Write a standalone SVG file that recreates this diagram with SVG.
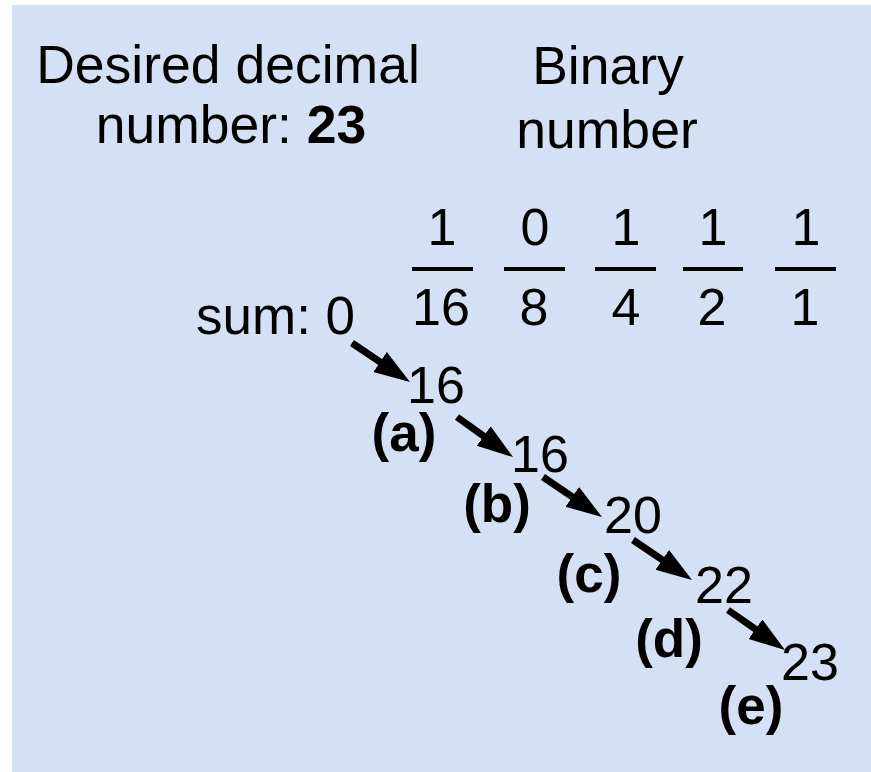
<svg xmlns="http://www.w3.org/2000/svg" width="871" height="772" viewBox="0 0 871 772">
  <style>
    text { font-family: "Liberation Sans", Arial, sans-serif; fill: #000; }
    .hdr { font-size: 53.5px; text-anchor: middle; }
    .num { font-size: 52px; text-anchor: middle; }
    .lbl { font-size: 53px; font-weight: bold; text-anchor: middle; }
    .bar { stroke: #000; stroke-width: 4; }
    .arrow { stroke: #000; stroke-width: 7; fill: none; marker-end: url(#head); }
  </style>
  <defs>
    <marker id="head" markerUnits="userSpaceOnUse" markerWidth="38" markerHeight="26" refX="6" refY="12" orient="auto">
      <path d="M0,0 L36,12 L0,24 z" fill="#000"/>
    </marker>
  </defs>
  <rect x="12" y="5" width="859" height="767" fill="#d4e0f3"/>

  <g id="header-decimal">
    <text class="hdr" x="228" y="83">Desired decimal</text>
    <text class="hdr" x="231" y="143">number: <tspan font-weight="bold">23</tspan></text>
  </g>
  <g id="header-binary">
    <text class="hdr" x="608" y="84">Binary</text>
    <text class="hdr" x="607" y="148">number</text>
  </g>

  <g id="bit-16">
    <text class="num" x="442" y="245">1</text>
    <line class="bar" x1="412" y1="269" x2="473" y2="269"/>
    <text class="num" x="441" y="325">16</text>
  </g>
  <g id="bit-8">
    <text class="num" x="535" y="245">0</text>
    <line class="bar" x1="504" y1="269" x2="565" y2="269"/>
    <text class="num" x="534" y="325">8</text>
  </g>
  <g id="bit-4">
    <text class="num" x="626" y="245">1</text>
    <line class="bar" x1="595" y1="269" x2="656" y2="269"/>
    <text class="num" x="626" y="325">4</text>
  </g>
  <g id="bit-2">
    <text class="num" x="713" y="245">1</text>
    <line class="bar" x1="683" y1="269" x2="743" y2="269"/>
    <text class="num" x="712" y="325">2</text>
  </g>
  <g id="bit-1">
    <text class="num" x="806" y="245">1</text>
    <line class="bar" x1="775" y1="269" x2="836" y2="269"/>
    <text class="num" x="805" y="325">1</text>
  </g>

  <g id="sum-0">
    <text x="196" y="334" font-size="53">sum: 0</text>
  </g>
  <g id="sum-a">
    <text class="num" x="436" y="403">16</text>
    <text class="lbl" x="404" y="451">(a)</text>
  </g>
  <g id="sum-b">
    <text class="num" x="540" y="472">16</text>
    <text class="lbl" x="497" y="522">(b)</text>
  </g>
  <g id="sum-c">
    <text class="num" x="633" y="533">20</text>
    <text class="lbl" x="589" y="592">(c)</text>
  </g>
  <g id="sum-d">
    <text class="num" x="724" y="603">22</text>
    <text class="lbl" x="669" y="657">(d)</text>
  </g>
  <g id="sum-e">
    <text class="num" x="810" y="680">23</text>
    <text class="lbl" x="751" y="724">(e)</text>
  </g>

  <g id="connectors">
    <line class="arrow" x1="352" y1="343" x2="385.1" y2="365.3"/>
    <line class="arrow" x1="457" y1="417" x2="488.6" y2="439.6"/>
    <line class="arrow" x1="543" y1="477" x2="577.2" y2="500.2"/>
    <line class="arrow" x1="633" y1="540" x2="667.2" y2="563.2"/>
    <line class="arrow" x1="728" y1="610" x2="760.4" y2="632.7"/>
  </g>
</svg>
